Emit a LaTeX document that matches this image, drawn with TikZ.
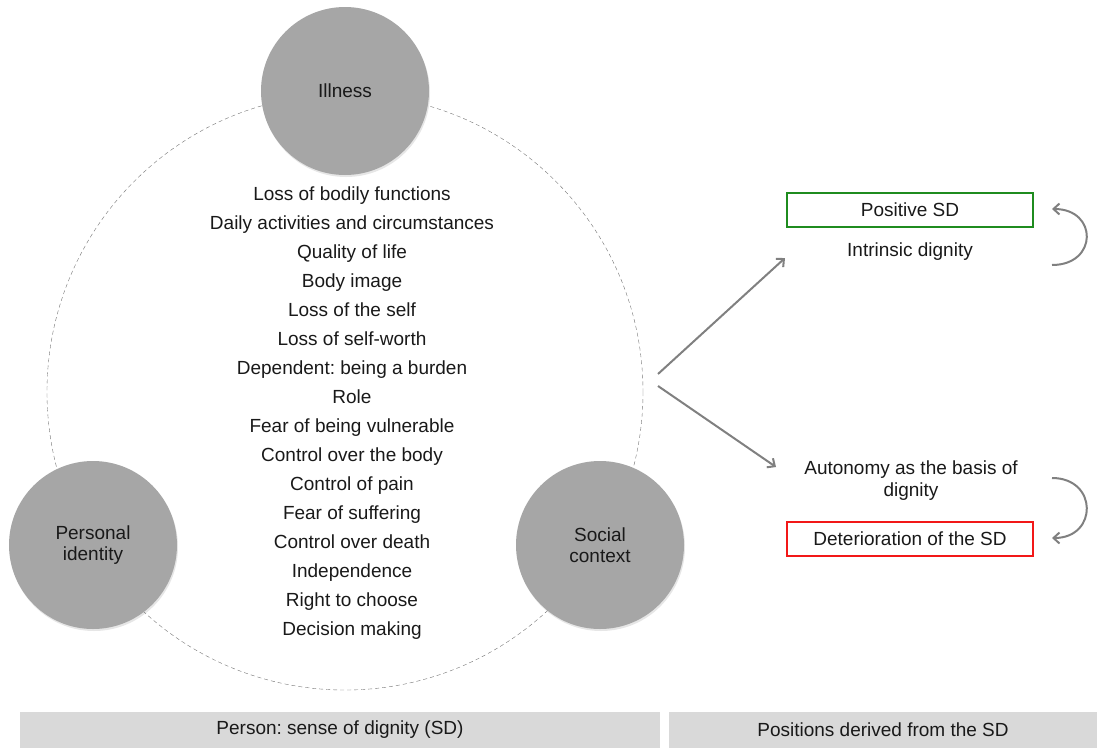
\documentclass[tikz,border=0pt]{standalone}
\usepackage{fontspec}
\setmainfont{Liberation Sans}
\usetikzlibrary{arrows.meta,shadows}
\definecolor{discgray}{HTML}{A6A6A6}
\definecolor{bargray}{HTML}{D9D9D9}
\definecolor{flowgray}{HTML}{808080}
\definecolor{goodgreen}{HTML}{1F8C1F}
\definecolor{badred}{HTML}{F21818}
\frenchspacing
\begin{document}
\begin{tikzpicture}[x=1pt,y=-1pt,
    every node/.style={font=\fontsize{19}{21}\selectfont,text=black!90},
    disc/.style={circle,fill=discgray,minimum size=168pt,align=center,
      drop shadow={opacity=0.2,shadow xshift=1pt,shadow yshift=-2pt}},
    sdbox/.style={draw,line width=2.5pt,minimum width=246pt,minimum height=34pt},
    barbox/.style={fill=bargray,minimum height=36pt},
    flow/.style={draw=flowgray,line width=2pt,-{Straight Barb[length=6pt,width=11pt]}}]
    \useasboundingbox (0,0) rectangle (1097,747);
    % ring of the person
    \draw[black!55,dashed,dash pattern=on 4pt off 3pt] (345,392) circle [radius=298];
    \node[disc] (illness) at (345,91) {Illness};
    \node[disc] (identity) at (93,545) {Personal\\identity};
    \node[disc] (context) at (600,545) {Social\\context};
    \node[align=center,font=\fontsize{19}{29}\selectfont] (items) at (352,413)
      {Loss of bodily functions\\Daily activities and circumstances\\Quality of life\\
       Body image\\Loss of the self\\Loss of self-worth\\Dependent: being a burden\\
       Role\\Fear of being vulnerable\\Control over the body\\Control of pain\\
       Fear of suffering\\Control over death\\Independence\\Right to choose\\Decision making};
    % positions
    \node[sdbox,draw=goodgreen] (positive) at (910,210) {Positive SD};
    \node (intrinsic) at (910,252) {Intrinsic dignity};
    \node[align=center,font=\fontsize{19}{22}\selectfont] (autonomy) at (911,481) {Autonomy as the basis of\\dignity};
    \node[sdbox,draw=badred] (deterioration) at (910,539) {Deterioration of the SD};
    \coordinate (forkup) at (658,374);
    \coordinate (forkdown) at (658,386);
    \coordinate (tipup) at (785,258);
    \coordinate (tipdown) at (776,467);
    \draw[flow] (forkup) -- (tipup);
    \draw[flow] (forkdown) -- (tipdown);
    \coordinate (loopa) at (1052,265);
    \coordinate (loopb) at (1052,209);
    \coordinate (loopc) at (1052,478);
    \coordinate (loopd) at (1052,538);
    \draw[flow] (loopa) .. controls (1098,265) and (1098,209) .. (loopb);
    \draw[flow] (loopc) .. controls (1098,478) and (1098,538) .. (loopd);
    % bottom bars
    \node[barbox,minimum width=640pt] (personbar) at (340,730) {Person: sense of dignity (SD)};
    \node[barbox,minimum width=428pt] (positionsbar) at (883,730) {Positions derived from the SD};
\end{tikzpicture}
\end{document}
